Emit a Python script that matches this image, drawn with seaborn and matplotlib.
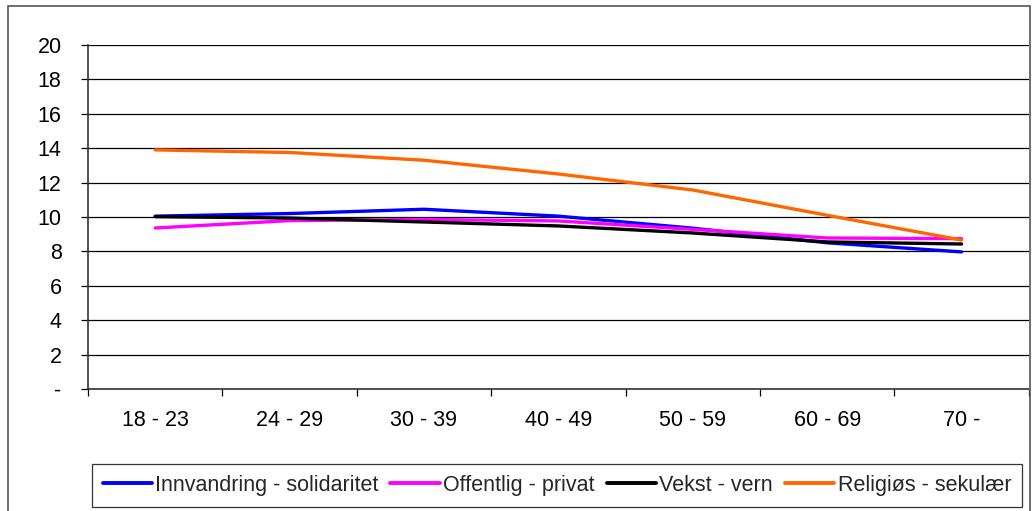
import pandas as pd
import matplotlib
matplotlib.use("Agg")
import matplotlib.pyplot as plt
from matplotlib.patches import Rectangle
import seaborn as sns

# age groups and the four value dimensions
age_groups = ["18 - 23", "24 - 29", "30 - 39", "40 - 49", "50 - 59", "60 - 69", "70 -"]
innvandring = [10.05, 10.2, 10.45, 10.05, 9.35, 8.5, 7.97]
offentlig = [9.36, 9.79, 9.86, 9.77, 9.28, 8.78, 8.74]
vekst = [10.02, 9.94, 9.71, 9.48, 9.07, 8.55, 8.43]
religios = [13.9, 13.75, 13.3, 12.5, 11.57, 10.1, 8.66]

series_names = ["Innvandring - solidaritet", "Offentlig - privat", "Vekst - vern", "Religiøs - sekulær"]
colors = ["#0000FF", "#FF00FF", "#000000", "#FF6600"]
y_ticks = [0, 2, 4, 6, 8, 10, 12, 14, 16, 18, 20]
y_labels = ["-", "2", "4", "6", "8", "10", "12", "14", "16", "18", "20"]

rows = []
for name, vals in zip(series_names, [innvandring, offentlig, vekst, religios]):
    for age, v in zip(age_groups, vals):
        rows.append({"age": age, "value": v, "series": name})
df = pd.DataFrame(rows)

sns.set_theme(style="white")
plt.rcParams['font.family'] = ['Liberation Sans', 'DejaVu Sans']

fig = plt.figure(figsize=(10.35, 5.11), dpi=100)
ax = fig.add_axes([0.085, 0.2387, 0.909, 0.6733])

sns.lineplot(data=df, x="age", y="value", hue="series", hue_order=series_names,
             palette=colors, linewidth=2.4, ax=ax, sort=False, legend=False)

ax.set_xlim(-0.5, 6.5)
ax.set_ylim(0, 20)
ax.set_yticks(y_ticks)
ax.set_yticklabels(y_labels, fontsize=15.5, color="black")
ax.yaxis.grid(True, color="black", linewidth=0.9)
ax.set_axisbelow(True)

# category labels in the middle, tick marks on the boundaries
ax.set_xticks([i - 0.5 for i in range(len(age_groups) + 1)])
ax.set_xticklabels([])
ax.set_xticks(range(len(age_groups)), minor=True)
ax.set_xticklabels(age_groups, minor=True, fontsize=15.5, color="black")
ax.tick_params(axis="x", which="major", direction="out", length=5, width=0.9, color="black", bottom=True)
ax.tick_params(axis="x", which="minor", length=0, pad=15)
ax.tick_params(axis="y", direction="out", length=5, width=0.9, color="black", left=True, pad=14)

for side in ["top", "right"]:
    ax.spines[side].set_visible(False)
for side in ["left", "bottom"]:
    ax.spines[side].set_color("#333333")
    ax.spines[side].set_linewidth(1.2)
ax.set_xlabel("")
ax.set_ylabel("")

handles = [plt.Line2D([], [], color=c, linewidth=2.8) for c in colors]
leg = fig.legend(handles, series_names, loc="center", bbox_to_anchor=(0.538, 0.05),
                 ncol=4, fontsize=15.5, frameon=True, fancybox=False,
                 handlelength=2.3, handletextpad=0.15, columnspacing=0.55,
                 borderpad=0.5)
leg.get_frame().set_edgecolor("black")
leg.get_frame().set_linewidth(0.9)

# outer chart border
fig.patches.append(Rectangle((8 / 1035, -0.05), 1022 / 1035, 1.05 - 6 / 511,
                             transform=fig.transFigure, fill=False,
                             edgecolor="#555555", linewidth=1.2))

fig.savefig("out.png", dpi=100)
